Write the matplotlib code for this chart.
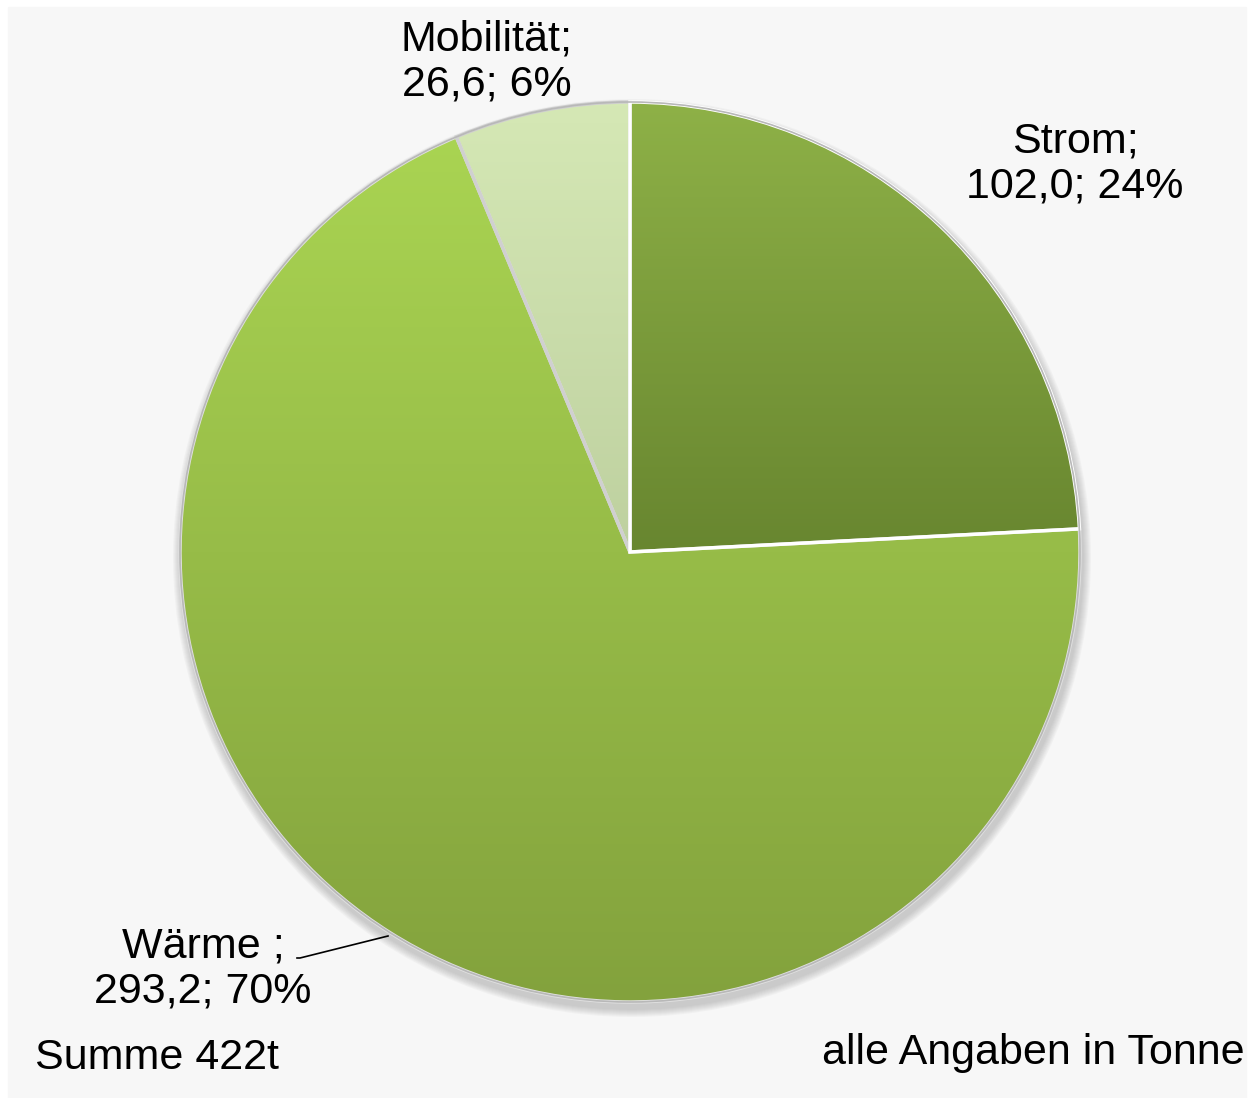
import numpy as np
import matplotlib.pyplot as plt
from matplotlib.colors import LinearSegmentedColormap
from matplotlib.patches import Circle

plt.rcParams['font.family'] = ['Liberation Sans', 'DejaVu Sans']

# data
categories = ['Strom', 'Wärme ', 'Mobilität']
values = [102.0, 293.2, 26.6]
percents = [24, 70, 6]
total_label = 'Summe 422t'
unit_note = 'alle Angaben in Tonne'

# gradient colours (top -> bottom) per slice
grad_top = ['#8eb147', '#abd653', '#d5e8b5']
grad_bot = ['#67852f', '#83a23d', '#a7b98a']
edge_cols = ['#ffffff', '#e0e0e0', '#d0d0d0']

W, H = 1252, 1098
fig = plt.figure(figsize=(W / 100, H / 100), dpi=100)
fig.patch.set_facecolor('white')
ax = fig.add_axes([0, 0, 1, 1])

cx, cy, R = 630, H - 552, 450

# grey chart area
bg = plt.Rectangle((8, 0), W - 14, H - 7, color='#f7f7f7', zorder=0)
ax.add_patch(bg)

# soft shadow under the pie
for k in range(8):
    ax.add_patch(Circle((cx + 2, cy - 6), R + 2 + k, color='#808080',
                        alpha=0.05, lw=0, zorder=1))

wedges, _ = ax.pie(values, startangle=90, counterclock=False, center=(cx, cy),
                   radius=R, frame=True,
                   wedgeprops=dict(facecolor='none', edgecolor='none'))
for i, w in enumerate(wedges):
    w.set_zorder(2)
    cmap = LinearSegmentedColormap.from_list('g%d' % i, [grad_bot[i], grad_top[i]])
    grad = np.linspace(0, 1, 256).reshape(-1, 1)
    ext = (cx - R, cx + R, cy - 10, cy + R) if i == 0 else (cx - R, cx + R, cy - R, cy + R)
    im = ax.imshow(grad, cmap=cmap, origin='lower', aspect='auto', extent=ext, zorder=2)
    im.set_clip_path(w)

# slice outlines
edges, _ = ax.pie(values, startangle=90, counterclock=False, center=(cx, cy),
                  radius=R, frame=True,
                  wedgeprops=dict(facecolor='none', linewidth=2.5))
for e, c in zip(edges, edge_cols):
    e.set_edgecolor(c)
for e in [edges[1], edges[2], edges[0]]:
    e.set_zorder(3)
edges[0].set_zorder(3.5)
ax.add_patch(Circle((cx, cy), R, fill=False, ec='#b8b8b8', lw=1.2, zorder=4))

ax.set_xlim(0, W)
ax.set_ylim(0, H)
ax.set_aspect('equal')
ax.axis('off')


def lab(i):
    return '%s;\n%s; %d%%' % (categories[i], ('%.1f' % values[i]).replace('.', ','), percents[i])


fs = 31
ax.text(487, H - 62, lab(2), ha='center', va='center', fontsize=fs, linespacing=1.15, zorder=5)
ax.text(1075, H - 164, lab(0), ha='center', va='center', fontsize=fs, linespacing=1.15, zorder=5)
ax.text(203, H - 969, lab(1), ha='center', va='center', fontsize=fs, linespacing=1.15, zorder=5)
ax.plot([297, 300, 388], [H - 958, H - 958, H - 936], color='black', lw=1.2, zorder=5)

ax.text(35, H - 1058, total_label, ha='left', va='center', fontsize=fs, zorder=5)
t = ax.text(822, H - 1053, unit_note, ha='left', va='center', fontsize=fs, zorder=5)
t.set_clip_path(bg)

fig.savefig('out.png', dpi=100)
